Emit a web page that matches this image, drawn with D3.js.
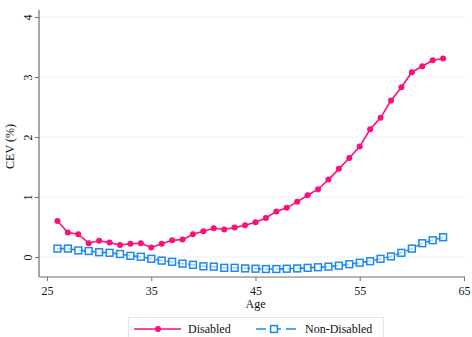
<!DOCTYPE html>
<html>
<head>
<meta charset="utf-8">
<script src="https://cdn.jsdelivr.net/npm/d3@7"></script>
<style>
  html, body { margin: 0; padding: 0; background: #fff; }
  svg { display: block; font-family: "Liberation Serif", "Times New Roman", serif; }
</style>
</head>
<body>
<svg id="chart" width="472" height="337"></svg>
<script>
// Consumption-equivalent variation by age
const ages = d3.range(26, 64);
const disabled = [
  0.60, 0.41, 0.38, 0.23, 0.27, 0.24, 0.20, 0.22, 0.23, 0.16,
  0.22, 0.28, 0.29, 0.38, 0.43, 0.48, 0.46, 0.49, 0.53, 0.58,
  0.65, 0.76, 0.82, 0.92, 1.03, 1.13, 1.29, 1.47, 1.65, 1.84,
  2.13, 2.32, 2.61, 2.83, 3.08, 3.18, 3.28, 3.31
];
const nonDisabled = [
  0.14, 0.14, 0.11, 0.10, 0.08, 0.07, 0.05, 0.02, 0.005, -0.03,
  -0.06, -0.08, -0.11, -0.13, -0.155, -0.16, -0.18, -0.18, -0.19, -0.195,
  -0.20, -0.20, -0.195, -0.19, -0.18, -0.17, -0.16, -0.145, -0.12, -0.095,
  -0.07, -0.03, 0.01, 0.07, 0.14, 0.23, 0.28, 0.33
];
const xTicks = [25, 35, 45, 55, 65];
const yTicks = [0, 1, 2, 3, 4];
const seriesNames = ["Disabled", "Non-Disabled"];
const seriesColors = ["#fb0f7a", "#1a88f0"];

const svg = d3.select("#chart");
const plotL = 39, plotR = 465, plotT = 10, plotB = 277;

const x = d3.scaleLinear().domain([24.23, 65.1]).range([plotL, plotR]);
const y = d3.scaleLinear().domain([-0.333, 4.117]).range([plotB, plotT]);

// horizontal grid
svg.append("g").selectAll("line").data(yTicks).join("line")
  .attr("x1", plotL).attr("x2", plotR)
  .attr("y1", d => y(d)).attr("y2", d => y(d))
  .attr("stroke", "#e8f0f2").attr("stroke-width", 1);

// axes
const axisColor = "#6e6e6e";
const yAxis = svg.append("g").attr("transform", `translate(${plotL},0)`)
  .call(d3.axisLeft(y).tickValues(yTicks).tickSize(4).tickPadding(5).tickFormat(d3.format("d")));
yAxis.select(".domain").attr("d", `M0,${plotT}V${plotB}`);
yAxis.selectAll("line").attr("stroke", axisColor);
yAxis.select(".domain").attr("stroke", axisColor).attr("stroke-width", 1.2);
yAxis.selectAll("text")
  .attr("font-size", 12).attr("fill", "#111").attr("font-family", "Liberation Serif")
  .attr("text-anchor", "middle").attr("x", null).attr("dy", null)
  .attr("transform", "translate(-11,0) rotate(-90)")
  .attr("dominant-baseline", "central");

const xAxis = svg.append("g").attr("transform", `translate(0,${plotB})`)
  .call(d3.axisBottom(x).tickValues(xTicks).tickSize(4).tickPadding(5).tickFormat(d3.format("d")));
xAxis.select(".domain").attr("d", `M${plotL},0H${plotR}`);
xAxis.selectAll("line").attr("stroke", axisColor);
xAxis.select(".domain").attr("stroke", axisColor).attr("stroke-width", 1.2);
xAxis.selectAll("text").attr("font-size", 12).attr("fill", "#111").attr("font-family", "Liberation Serif");

// axis titles
svg.append("text").attr("x", x(45)).attr("y", 308)
  .attr("text-anchor", "middle").attr("font-size", 12).attr("fill", "#111").text("Age");
svg.append("text").attr("transform", `translate(14,${(plotT + plotB) / 2 + 3}) rotate(-90)`)
  .attr("text-anchor", "middle").attr("font-size", 12).attr("fill", "#111").text("CEV (%)");

const line = d3.line().x((d, i) => x(ages[i])).y(d => y(d));

// Non-disabled series: dashed line with hollow squares
svg.append("path").datum(nonDisabled).attr("d", line)
  .attr("fill", "none").attr("stroke", seriesColors[1]).attr("stroke-width", 1.6)
  .attr("stroke-dasharray", "7,4");
svg.append("g").selectAll("rect").data(nonDisabled).join("rect")
  .attr("x", (d, i) => x(ages[i]) - 3.4).attr("y", d => y(d) - 3.4)
  .attr("width", 6.8).attr("height", 6.8)
  .attr("fill", "#fff").attr("fill-opacity", 0.6)
  .attr("stroke", seriesColors[1]).attr("stroke-width", 1.5);

// Disabled series: solid line with filled circles
svg.append("path").datum(disabled).attr("d", line)
  .attr("fill", "none").attr("stroke", seriesColors[0]).attr("stroke-width", 1.6);
svg.append("g").selectAll("circle").data(disabled).join("circle")
  .attr("cx", (d, i) => x(ages[i])).attr("cy", d => y(d)).attr("r", 3)
  .attr("fill", seriesColors[0]);

// legend
const lg = svg.append("g");
lg.append("rect").attr("x", 128.5).attr("y", 317.5).attr("width", 255).attr("height", 30)
  .attr("fill", "#fff").attr("stroke", "#e4e4e4");
const ly = 329;
lg.append("line").attr("x1", 134).attr("x2", 181).attr("y1", ly).attr("y2", ly)
  .attr("stroke", seriesColors[0]).attr("stroke-width", 1.6);
lg.append("circle").attr("cx", 158).attr("cy", ly).attr("r", 3).attr("fill", seriesColors[0]);
lg.append("text").attr("x", 188).attr("y", ly + 4).attr("font-size", 12).attr("fill", "#111").text(seriesNames[0]);
lg.append("line").attr("x1", 256).attr("x2", 299).attr("y1", ly).attr("y2", ly)
  .attr("stroke", seriesColors[1]).attr("stroke-width", 1.6).attr("stroke-dasharray", "10,5");
lg.append("rect").attr("x", 274 - 3.4).attr("y", ly - 3.4).attr("width", 6.8).attr("height", 6.8)
  .attr("fill", "#fff").attr("stroke", seriesColors[1]).attr("stroke-width", 1.5);
lg.append("text").attr("x", 305).attr("y", ly + 4).attr("font-size", 12).attr("fill", "#111").text(seriesNames[1]);
</script>
</body>
</html>
